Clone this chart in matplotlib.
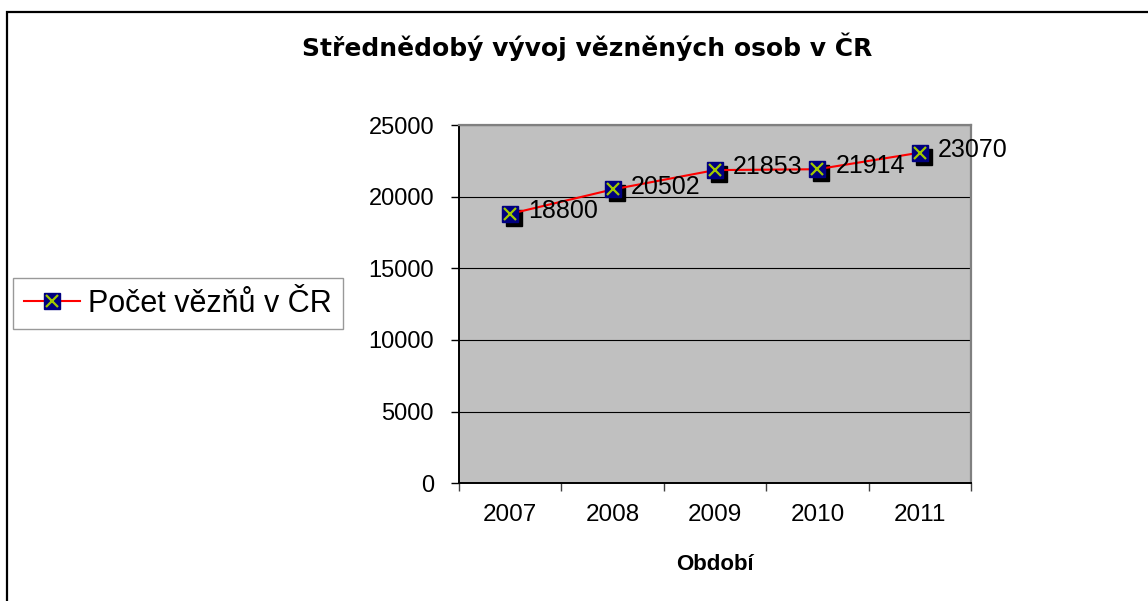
import matplotlib
matplotlib.use("Agg")
import matplotlib.pyplot as plt
from matplotlib.patches import Rectangle
from matplotlib.lines import Line2D
import matplotlib.transforms as mtrans

plt.rcParams['font.family'] = ['Liberation Sans', 'DejaVu Sans']

years = ['2007', '2008', '2009', '2010', '2011']
values = [18800, 20502, 21853, 21914, 23070]
y_ticks = [0, 5000, 10000, 15000, 20000, 25000]
title = 'Střednědobý vývoj vězněných osob v ČR'
series_name = 'Počet vězňů v ČR'
x_label = 'Období'

W, H, DPI = 1148, 601, 100
fig = plt.figure(figsize=(W / DPI, H / DPI), dpi=DPI)
fig.patch.set_facecolor('white')

# outer chart frame
frame = Rectangle((7 / W, 0 - 20 / H), 1.2, (H - 12 + 20) / H, transform=fig.transFigure,
                  fill=False, edgecolor='black', linewidth=1.6, zorder=0)
fig.patches.append(frame)

L, R, T, B = 459, 971, 125, 483.3
ax = fig.add_axes([L / W, 1 - B / H, (R - L) / W, (B - T) / H])
ax.set_facecolor('#C0C0C0')

x = list(range(1, len(years) + 1))
ax.set_xlim(0.5, len(years) + 0.5)
ax.set_ylim(0, 25000)
ax.set_yticks(y_ticks)
ax.set_yticklabels([str(v) for v in y_ticks])
ax.yaxis.grid(True, color='black', linewidth=0.8)
ax.set_axisbelow(True)

ax.set_xticks([i + 0.5 for i in range(len(years) + 1)])
ax.set_xticklabels([])
ax.set_xticks(x, minor=True)
ax.set_xticklabels(years, minor=True)
ax.tick_params(axis='x', which='major', length=6, width=1, color='#404040', direction='out')
ax.tick_params(axis='x', which='minor', length=0, pad=15, labelsize=17.5)
ax.tick_params(axis='y', which='major', length=6, width=1, color='black', pad=12, labelsize=17)

for s in ['top', 'right']:
    ax.spines[s].set_color('#808080')
    ax.spines[s].set_linewidth(1.6)
for s in ['left', 'bottom']:
    ax.spines[s].set_color('black')
    ax.spines[s].set_linewidth(1.4)

ms = 12.2
shadow = mtrans.offset_copy(ax.transData, fig=fig, x=4, y=-4, units='dots')
ax.plot(x, values, linestyle='none', marker='s', markersize=ms, color='black',
        transform=shadow, zorder=3, clip_on=False)
ax.plot(x, values, color='#FF0000', linewidth=1.5, zorder=4, clip_on=False)
ax.plot(x, values, linestyle='none', marker='s', markersize=ms, markerfacecolor='#000080',
        markeredgecolor='#000080', zorder=5, clip_on=False)
ax.plot(x, values, linestyle='none', marker='x', markersize=8.5, markeredgewidth=1.6,
        color='#A0C800', zorder=6, clip_on=False)

for xi, v in zip(x, values):
    ax.annotate(str(v), (xi, v), xytext=(13, 2), textcoords='offset points',
                ha='left', va='center', fontsize=18, color='black', zorder=7,
                annotation_clip=False)

fig.text(587 / W, 1 - 47 / H, title, ha='center', va='center', fontsize=18,
         fontweight='bold', family=['DejaVu Sans'])
fig.text(715 / W, 1 - 564 / H, x_label, ha='center', va='center', fontsize=16,
         fontweight='bold')

handle = Line2D([], [], color='#FF0000', linewidth=1.5, marker='s', markersize=ms,
                markerfacecolor='#000080', markeredgecolor='#000080')
handle_x = Line2D([], [], linestyle='none', marker='x', markersize=8.5, markeredgewidth=1.6,
                  color='#A0C800')
leg = fig.legend([(handle, handle_x)], [series_name], loc='center left',
                 bbox_to_anchor=(13 / W, 1 - 303.5 / H), fontsize=22, frameon=True,
                 fancybox=False, edgecolor='#808080', handlelength=1.85,
                 handletextpad=0.26, borderpad=0.35, borderaxespad=0)
leg.get_frame().set_linewidth(1.0)

fig.savefig('out.png', dpi=DPI)
